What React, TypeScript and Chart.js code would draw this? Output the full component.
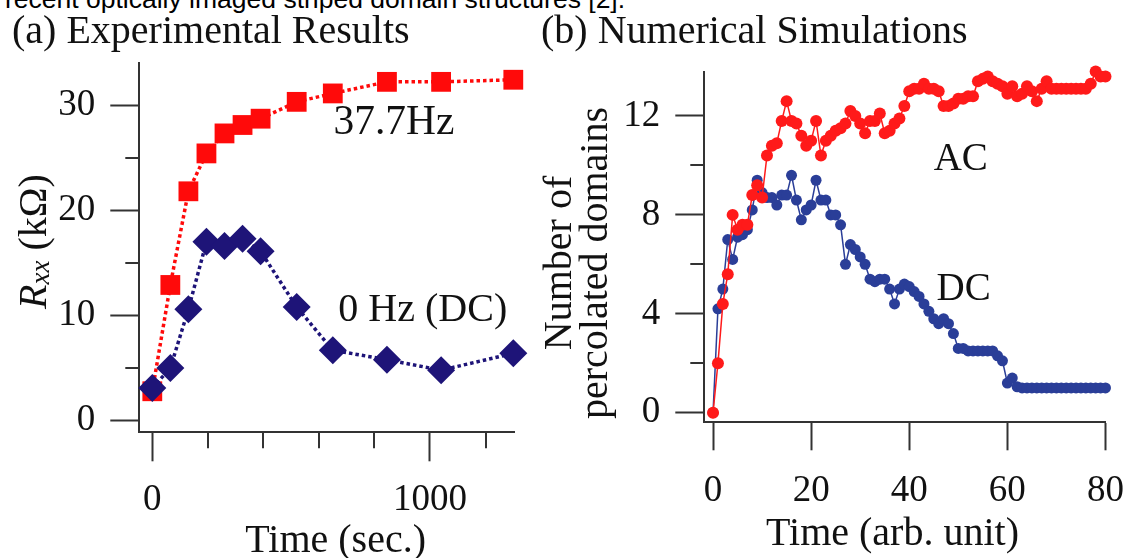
import React, { useEffect, useRef } from "react";
import { Chart, registerables } from "chart.js";

Chart.register(...registerables);

const SERIF = '"Liberation Serif", "Times New Roman", Times, serif';
const AXIS = "#333333";
const INK = "#111111";

// ---------- Panel (a): Experimental results ----------
const expTimes = [0, 65, 130, 195, 260, 325, 390, 520, 650, 845, 1040, 1300];
const ac377Hz = [2.8, 12.9, 21.8, 25.4, 27.3, 28.1, 28.7, 30.3, 31.1, 32.2, 32.2, 32.4];
const dc0Hz = [3.1, 5.0, 10.6, 17.0, 16.6, 17.3, 16.1, 10.8, 6.7, 5.8, 4.8, 6.4];
const expXMajor = [0, 1000];
const expXMinor = [200, 400, 600, 800, 1200];
const expYMajor = [0, 10, 20, 30];
const expYMinor = [5, 15, 25];

// ---------- Panel (b): Numerical simulations ----------
const simTimes = [
  0, 1, 2, 3, 4, 5, 6, 7, 8, 9, 10, 11, 12, 13, 14, 15, 16, 17, 18, 19, 20,
  21, 22, 23, 24, 25, 26, 27, 28, 29, 30, 31, 32, 33, 34, 35, 36, 37, 38, 39, 40,
  41, 42, 43, 44, 45, 46, 47, 48, 49, 50, 51, 52, 53, 54, 55, 56, 57, 58, 59, 60,
  61, 62, 63, 64, 65, 66, 67, 68, 69, 70, 71, 72, 73, 74, 75, 76, 77, 78, 79, 80,
];
const simAC = [
  0, 2.0, 4.4, 5.6, 8.0, 7.4, 7.6, 7.6, 8.8, 9.2, 8.7,
  10.4, 10.8, 10.9, 11.8, 12.6, 11.8, 11.7, 11.2, 10.8, 11.0,
  11.8, 10.4, 11.0, 11.2, 11.4, 11.5, 11.7, 12.2, 12.0, 11.7,
  11.3, 11.8, 11.8, 12.1, 11.3, 11.4, 11.7, 11.9, 12.4, 13.0,
  13.1, 13.1, 13.3, 13.1, 13.1, 13.0, 12.4, 12.4, 12.5, 12.7,
  12.7, 12.8, 12.8, 13.4, 13.5, 13.6, 13.4, 13.3, 13.2, 12.9,
  13.2, 12.8, 12.9, 13.2, 13.0, 12.6, 13.1, 13.4, 13.1, 13.1,
  13.1, 13.1, 13.1, 13.1, 13.1, 13.1, 13.3, 13.8, 13.6, 13.6,
];
const simDC = [
  0, 4.2, 5.0, 7.0, 6.2, 7.1, 7.2, 7.4, 8.2, 9.4, 8.9,
  8.7, 8.7, 8.4, 8.8, 8.8, 9.6, 8.6, 7.8, 8.2, 8.4,
  9.4, 8.6, 8.6, 8.0, 8.0, 7.6, 6.0, 6.8, 6.6, 6.3,
  6.0, 5.4, 5.3, 5.4, 5.4, 5.0, 4.4, 5.0, 5.2, 5.1,
  4.9, 4.7, 4.4, 4.1, 3.8, 3.6, 3.8, 3.6, 3.2, 2.6,
  2.6, 2.5, 2.5, 2.5, 2.5, 2.5, 2.5, 2.3, 2.1, 1.2,
  1.4, 1.05, 1.0, 1.0, 1.0, 1.0, 1.0, 1.0, 1.0, 1.0,
  1.0, 1.0, 1.0, 1.0, 1.0, 1.0, 1.0, 1.0, 1.0, 1.0,
];
const simXTicks = [0, 20, 40, 60, 80];
const simYMajor = [0, 4, 8, 12];
const simYMinor = [2, 6, 10];

type Part = { text: string; font: string; dy?: number };
type TextItem = {
  parts: Part[];
  x: number;
  y: number;
  data?: boolean;
  rotate?: boolean;
  baseline?: CanvasTextBaseline;
};

function textPlugin(id: string, items: TextItem[]) {
  return {
    id,
    afterDatasetsDraw(chart: any) {
      const { ctx } = chart;
      const xs = chart.scales.x;
      const ys = chart.scales.y;
      items.forEach((it) => {
        const px = it.data ? xs.getPixelForValue(it.x) : it.x;
        const py = it.data ? ys.getPixelForValue(it.y) : it.y;
        ctx.save();
        ctx.translate(px, py);
        if (it.rotate) ctx.rotate(-Math.PI / 2);
        ctx.fillStyle = INK;
        ctx.textAlign = "left";
        ctx.textBaseline = it.baseline ?? "middle";
        let total = 0;
        it.parts.forEach((p) => {
          ctx.font = p.font;
          total += ctx.measureText(p.text).width;
        });
        let cx = -total / 2;
        it.parts.forEach((p) => {
          ctx.font = p.font;
          ctx.fillText(p.text, cx, p.dy ?? 0);
          cx += ctx.measureText(p.text).width;
        });
        ctx.restore();
      });
    },
  };
}

function minorTickPlugin(id: string, xMinor: number[], xLen: number, yMinor: number[], yLen: number) {
  return {
    id,
    afterDraw(chart: any) {
      const { ctx, chartArea } = chart;
      const xs = chart.scales.x;
      const ys = chart.scales.y;
      ctx.save();
      ctx.strokeStyle = AXIS;
      ctx.lineWidth = 2;
      ctx.beginPath();
      xMinor.forEach((v) => {
        const p = Math.round(xs.getPixelForValue(v));
        ctx.moveTo(p, chartArea.bottom);
        ctx.lineTo(p, chartArea.bottom + xLen);
      });
      yMinor.forEach((v) => {
        const p = Math.round(ys.getPixelForValue(v));
        ctx.moveTo(chartArea.left - yLen, p);
        ctx.lineTo(chartArea.left, p);
      });
      ctx.stroke();
      ctx.restore();
    },
  };
}

const f = (size: number, style = "normal") => `${style} ${size}px ${SERIF}`;

function axisBase(tickLength: number, padding: number) {
  return {
    type: "linear" as const,
    grid: { drawOnChartArea: false, drawTicks: true, tickLength, tickWidth: 2, tickColor: AXIS },
    border: { display: true, color: AXIS, width: 2 },
    ticks: {
      font: { family: SERIF, size: 37 },
      color: INK,
      padding,
      maxRotation: 0,
      autoSkip: false,
      callback: (v: any) => String(v),
    },
  };
}

function ExperimentalPanel() {
  const ref = useRef<HTMLCanvasElement | null>(null);
  useEffect(() => {
    if (!ref.current) return;
    const chart = new Chart(ref.current, {
      type: "line",
      data: {
        datasets: [
          {
            label: "0 Hz (DC)",
            data: expTimes.map((t, i) => ({ x: t, y: dc0Hz[i] })),
            borderColor: "#1e1478",
            backgroundColor: "#1e1478",
            borderWidth: 3.5,
            borderDash: [3.5, 3],
            pointStyle: "rectRot",
            pointRadius: 14,
            pointBorderWidth: 0,
            pointBackgroundColor: "#1e1478",
            tension: 0,
            clip: false,
          },
          {
            label: "37.7Hz",
            data: expTimes.map((t, i) => ({ x: t, y: ac377Hz[i] })),
            borderColor: "#ff0a0a",
            backgroundColor: "#ff0a0a",
            borderWidth: 3.5,
            borderDash: [3.5, 3],
            pointStyle: "rect",
            pointRadius: 14,
            pointBorderWidth: 0,
            pointBackgroundColor: "#ff0a0a",
            tension: 0,
            clip: false,
          },
        ],
      },
      options: {
        animation: false,
        responsive: false,
        devicePixelRatio: 1,
        events: [],
        layout: { autoPadding: false, padding: { left: 12, right: 30.7, top: 0, bottom: 0 } },
        scales: {
          x: {
            ...axisBase(29, 17),
            min: -46.8,
            max: 1303.6,
            afterBuildTicks: (s: any) => {
              s.ticks = expXMajor.map((v) => ({ value: v }));
            },
            afterFit: (s: any) => {
              s.height = 125.7;
            },
          },
          y: {
            ...axisBase(29, 15),
            min: -1.1,
            max: 34.02,
            afterBuildTicks: (s: any) => {
              s.ticks = expYMajor.map((v) => ({ value: v }));
            },
            afterFit: (s: any) => {
              s.width = 127.3;
            },
          },
        },
        plugins: {
          legend: { display: false },
          tooltip: { enabled: false },
          title: {
            display: true,
            text: "(a) Experimental Results",
            align: "start",
            color: INK,
            font: { family: SERIF, size: 40, weight: "normal", lineHeight: 1.2 },
            padding: { top: 8, bottom: 6.7 },
          },
        },
      },
      plugins: [
        minorTickPlugin("minorA", expXMinor, 16, expYMinor, 14),
        textPlugin("textA", [
          { parts: [{ text: "37.7Hz", font: f(41.5) }], x: 870, y: 28.3, data: true },
          { parts: [{ text: "0 Hz (DC)", font: f(40) }], x: 974, y: 10.5, data: true },
          { parts: [{ text: "Time (sec.)", font: f(40) }], x: 335.6, y: 541 },
          {
            parts: [
              { text: "R", font: f(40, "italic") },
              { text: "xx", font: f(27, "italic"), dy: 3 },
              { text: " (kΩ)", font: f(40) },
            ],
            x: 46,
            y: 241.5,
            rotate: true,
            baseline: "alphabetic",
          },
        ]),
      ],
    } as any);
    return () => chart.destroy();
  }, []);
  return (
    <canvas
      ref={ref}
      width={545}
      height={558}
      style={{ position: "absolute", left: 0, top: 0 }}
    />
  );
}

function SimulationPanel() {
  const ref = useRef<HTMLCanvasElement | null>(null);
  useEffect(() => {
    if (!ref.current) return;
    const chart = new Chart(ref.current, {
      type: "line",
      data: {
        datasets: [
          {
            label: "AC",
            data: simTimes.map((t, i) => ({ x: t, y: simAC[i] })),
            borderColor: "#ff1a1a",
            backgroundColor: "#ff1a1a",
            borderWidth: 1.5,
            pointStyle: "circle",
            pointRadius: 6,
            pointBorderWidth: 0,
            pointBackgroundColor: "#ff1a1a",
            tension: 0,
            clip: false,
          },
          {
            label: "DC",
            data: simTimes.map((t, i) => ({ x: t, y: simDC[i] })),
            borderColor: "#2a3e98",
            backgroundColor: "#2a3e98",
            borderWidth: 1.5,
            pointStyle: "circle",
            pointRadius: 5.5,
            pointBorderWidth: 0,
            pointBackgroundColor: "#2a3e98",
            tension: 0,
            clip: false,
          },
        ],
      },
      options: {
        animation: false,
        responsive: false,
        devicePixelRatio: 1,
        events: [],
        layout: { autoPadding: false, padding: { left: 11, right: 23.3, top: 0, bottom: 0 } },
        scales: {
          x: {
            ...axisBase(28, 19),
            min: -1.78,
            max: 80.1,
            afterBuildTicks: (s: any) => {
              s.ticks = simXTicks.map((v) => ({ value: v }));
            },
            afterFit: (s: any) => {
              s.height = 135.7;
            },
          },
          y: {
            ...axisBase(29, 15),
            min: -0.388,
            max: 13.79,
            afterBuildTicks: (s: any) => {
              s.ticks = simYMajor.map((v) => ({ value: v }));
            },
            afterFit: (s: any) => {
              s.width = 163.3;
            },
          },
        },
        plugins: {
          legend: { display: false },
          tooltip: { enabled: false },
          title: {
            display: true,
            text: "(b) Numerical Simulations",
            align: "start",
            color: INK,
            font: { family: SERIF, size: 40, weight: "normal", lineHeight: 1.2 },
            padding: { top: 8, bottom: 15.7 },
          },
        },
      },
      plugins: [
        minorTickPlugin("minorB", [], 0, simYMinor, 14),
        textPlugin("textB", [
          { parts: [{ text: "AC", font: f(39) }], x: 50.5, y: 10.24, data: true },
          { parts: [{ text: "DC", font: f(39) }], x: 51.1, y: 4.96, data: true },
          { parts: [{ text: "Time (arb. unit)", font: f(40) }], x: 362.5, y: 534 },
          { parts: [{ text: "Number of", font: f(40) }], x: 41, y: 263, rotate: true, baseline: "alphabetic" },
          { parts: [{ text: "percolated domains", font: f(40) }], x: 77, y: 263, rotate: true, baseline: "alphabetic" },
        ]),
      ],
    } as any);
    return () => chart.destroy();
  }, []);
  return (
    <canvas
      ref={ref}
      width={613}
      height={558}
      style={{ position: "absolute", left: 530, top: 0 }}
    />
  );
}

export default function App() {
  return (
    <div
      style={{
        position: "fixed",
        left: 0,
        top: 0,
        width: 1143,
        height: 558,
        background: "#ffffff",
        overflow: "hidden",
      }}
    >
      <div
        style={{
          position: "absolute",
          left: 5,
          top: -13.9,
          font: '26.5px "Liberation Sans", Arial, sans-serif',
          lineHeight: "26.5px",
          whiteSpace: "nowrap",
          color: "#000",
        }}
      >
        recent optically imaged striped domain structures [2].
      </div>
      <ExperimentalPanel />
      <SimulationPanel />
    </div>
  );
}
